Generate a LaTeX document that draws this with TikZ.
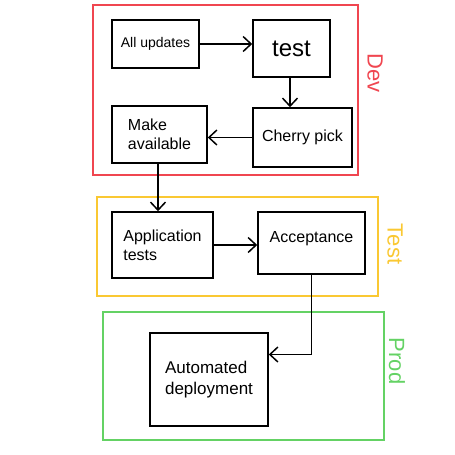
\documentclass[tikz,border=0pt]{standalone}
\usepackage{fontspec}
\setmainfont{Liberation Sans}
\usetikzlibrary{arrows.meta}
\definecolor{devred}{RGB}{240,70,80}
\definecolor{testyel}{RGB}{250,200,50}
\definecolor{prodgrn}{RGB}{100,210,100}
\tikzset{
  box/.style={draw=black, line width=1.6pt, rectangle, inner sep=2pt, align=left, font=\fontsize{16}{19}\selectfont},
  frame/.style={draw, line width=1.3pt},
  arr/.style={draw=black, line width=1.5pt, -{Straight Barb[length=8pt,width=15pt,line width=1.5pt]}},
  lane/.style={rotate=-90, font=\fontsize{22}{24}\selectfont}
}
\begin{document}
\begin{tikzpicture}[x=1pt,y=-1pt]
\useasboundingbox (0,0) rectangle (455,455);
% frames
\draw[frame, devred] (93,5) rectangle (358,175);
\draw[frame, testyel] (97,197) rectangle (378,296);
\draw[frame, prodgrn] (103,312) rectangle (384,440);
% lane labels
\node[lane, text=devred] (ldev) at (375,73) {Dev};
\node[lane, text=testyel] (ltest) at (395,244) {Test};
\node[lane, text=prodgrn] (lprod) at (397,361) {Prod};
% boxes
\node[box, minimum width=87pt, minimum height=48pt, font=\fontsize{14}{16}\selectfont] (upd) at (155.5,44) {All updates};
\node[box, minimum width=77pt, minimum height=57pt, font=\fontsize{24}{26}\selectfont] (tst) at (291.5,48.5) {test};
\node[box, minimum width=95pt, minimum height=57pt] (mk) at (159.5,134.5) {Make\\available};
\node[box, minimum width=99pt, minimum height=59pt] (ch) at (302.5,137.5) {Cherry pick};
\node[box, minimum width=101pt, minimum height=66pt] (app) at (162.5,245) {Application\\tests};
\node[box, minimum width=107pt, minimum height=62pt, text depth=12pt] (acc) at (311.5,243) {Acceptance};
\node[box, minimum width=118pt, minimum height=93pt, font=\fontsize{17}{21}\selectfont] (auto) at (209,379.5) {Automated\\deployment};
% connectors
\draw[arr] (upd.east) -- (tst.west |- upd.east);
\draw[arr] (tst.south -| 290,0) -- (ch.north -| 290,0);
\draw[arr] (ch.west) -- (mk.east |- ch.west);
\draw[arr] (mk.south -| 158,0) -- (app.north -| 158,0);
\draw[arr] (app.east) -- (acc.west |- app.east);
\draw[arr] (acc.south) |- ([yshift=25pt]auto.east);
\end{tikzpicture}
\end{document}
